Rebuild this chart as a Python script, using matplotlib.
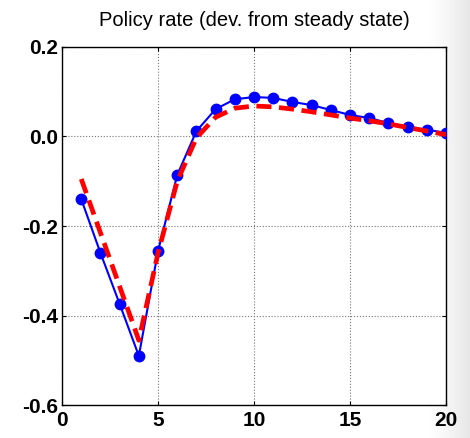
import matplotlib
matplotlib.use("Agg")
import matplotlib.pyplot as plt
import numpy as np

periods = list(range(1, 21))
model_a = [-0.14, -0.26, -0.374, -0.49, -0.256, -0.086, 0.012, 0.061, 0.083, 0.088,
           0.086, 0.077, 0.070, 0.059, 0.048, 0.041, 0.030, 0.021, 0.015, 0.008]
model_b = [-0.095, -0.215, -0.335, -0.455, -0.26, -0.10, -0.003, 0.043, 0.063, 0.068,
           0.066, 0.061, 0.055, 0.048, 0.041, 0.035, 0.028, 0.020, 0.012, 0.004]
xticks = [0, 5, 10, 15, 20]
yticks = [-0.6, -0.4, -0.2, 0.0, 0.2]
ytick_labels = ["-0.6", "-0.4", "-0.2", "0.0", "0.2"]
title = "Policy rate (dev. from steady state)"

fig = plt.figure(figsize=(4.70, 4.38), dpi=100)

# background gradient (light grey towards the right edge)
bg = fig.add_axes([0, 0, 1, 1], zorder=-10)
w = np.linspace(0, 1, 470)
grad = np.clip((w - 0.90) / 0.10, 0, 1) ** 1.5
img = 1 - 0.10 * grad
bg.imshow(np.tile(img, (10, 1)), cmap="gray", vmin=0, vmax=1, aspect="auto",
          extent=[0, 1, 0, 1])
bg.axis("off")

ax = fig.add_axes([0.132, 0.075, 0.817, 0.818])
ax.plot(periods, model_a, color="#0000ff", lw=1.5, marker="o", ms=7.5, zorder=3)
ax.plot(periods, model_b, color="#ff0000", lw=3.4, ls=(0, (3.2, 1.6)), zorder=4)

ax.set_xlim(0, 20)
ax.set_ylim(-0.6, 0.2)
ax.set_xticks(xticks)
ax.set_yticks(yticks)
ax.set_xticklabels([str(t) for t in xticks])
ax.set_yticklabels(ytick_labels)
ax.grid(True, color="#777777", lw=0.8, ls=":")
ax.tick_params(direction="in", top=True, right=True, length=3, width=0.8,
               labelsize=15)
ax.tick_params(axis="x", pad=4)
ax.tick_params(axis="y", pad=3)
for lab in ax.get_xticklabels() + ax.get_yticklabels():
    lab.set_fontweight("bold")
    lab.set_family("Liberation Sans")
for s in ax.spines.values():
    s.set_linewidth(1.0)
ax.set_title(title, fontsize=14.5, family="Liberation Sans", pad=15)

fig.savefig("out.png", dpi=100)
